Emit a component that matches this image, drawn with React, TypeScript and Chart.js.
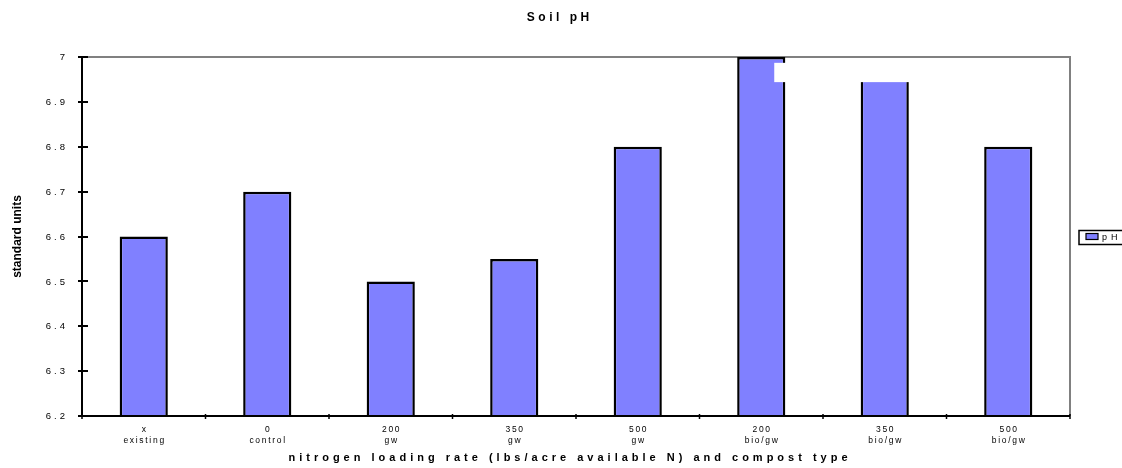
import React, { useEffect, useRef } from 'react';
import { Chart, registerables } from 'chart.js';

Chart.register(...registerables);

// ---- data ----
const categories: string[][] = [
  ['x', 'existing'],
  ['0', 'control'],
  ['200', 'gw'],
  ['350', 'gw'],
  ['500', 'gw'],
  ['200', 'bio/gw'],
  ['350', 'bio/gw'],
  ['500', 'bio/gw'],
];
const phValues: number[] = [6.6, 6.7, 6.5, 6.55, 6.8, 7.0, 6.95, 6.8];
const seriesLabel = 'pH';
const yMin = 6.2;
const yMax = 7;
const yStep = 0.1;
const titleText = 'Soil pH';
const xAxisTitle = 'nitrogen loading rate (lbs/acre available N) and compost type';
const yAxisTitle = 'standard units';

const FONT = '"Liberation Sans", Arial, Helvetica, sans-serif';
const BAR_FILL = '#8080FF';

// draws text one glyph at a time with extra tracking between glyphs
function drawSpaced(
  ctx: CanvasRenderingContext2D,
  text: string,
  x: number,
  y: number,
  spacing: number,
  align: 'left' | 'center' | 'right'
) {
  const chars = Array.from(text);
  const widths = chars.map((c) => ctx.measureText(c).width);
  const total = widths.reduce((s, w) => s + w, 0) + spacing * (chars.length - 1);
  let cx = align === 'center' ? x - total / 2 : align === 'right' ? x - total : x;
  ctx.textAlign = 'left';
  chars.forEach((c, i) => {
    ctx.fillText(c, cx, y);
    cx += widths[i] + spacing;
  });
}

const framePlugin = {
  id: 'frame',
  beforeDatasetsDraw(chart: any) {
    const { ctx, chartArea: a } = chart;
    ctx.save();
    ctx.strokeStyle = '#808080';
    ctx.lineWidth = 2;
    ctx.beginPath();
    ctx.moveTo(a.left, a.top);
    ctx.lineTo(a.right, a.top);
    ctx.lineTo(a.right, a.bottom);
    ctx.stroke();
    ctx.restore();
  },
  afterDatasetsDraw(chart: any) {
    const { ctx, chartArea: a, scales } = chart;
    const x = scales.x;
    const y = scales.y;
    ctx.save();

    // blank annotation strip across the upper right of the plot
    const sx0 = x.getPixelForValue(5) + 13;
    const sx1 = x.getPixelForValue(7) + 40;
    const sy0 = y.getPixelForValue(6.987);
    const sy1 = y.getPixelForValue(6.944);
    ctx.fillStyle = '#ffffff';
    ctx.fillRect(sx0, sy0, sx1 - sx0, sy1 - sy0);

    // value axis with crossing tick marks
    ctx.strokeStyle = '#000';
    ctx.lineWidth = 2;
    ctx.beginPath();
    ctx.moveTo(a.left, a.top);
    ctx.lineTo(a.left, a.bottom + 1);
    ctx.stroke();
    y.ticks.forEach((t: any) => {
      const py = Math.round(y.getPixelForValue(t.value));
      ctx.beginPath();
      ctx.moveTo(a.left - 4, py);
      ctx.lineTo(a.left + 6, py);
      ctx.stroke();
    });

    // category axis
    ctx.beginPath();
    ctx.moveTo(a.left - 4, a.bottom);
    ctx.lineTo(a.right, a.bottom);
    ctx.stroke();
    ctx.lineWidth = 1.5;
    const n = categories.length;
    for (let i = 0; i <= n; i++) {
      const px =
        i === 0
          ? a.left
          : i === n
          ? a.right
          : (x.getPixelForValue(i - 1) + x.getPixelForValue(i)) / 2;
      ctx.beginPath();
      ctx.moveTo(px, a.bottom - 2);
      ctx.lineTo(px, a.bottom + 3);
      ctx.stroke();
    }
    ctx.restore();
  },
  afterDraw(chart: any) {
    const { ctx, chartArea: a, scales } = chart;
    const x = scales.x;
    const y = scales.y;
    ctx.save();
    ctx.fillStyle = '#000';

    // value tick labels
    ctx.font = `9.5px ${FONT}`;
    ctx.textBaseline = 'middle';
    y.ticks.forEach((t: any) => {
      const label = String(parseFloat(Number(t.value).toFixed(1)));
      drawSpaced(ctx, label, a.left - 17, y.getPixelForValue(t.value) + 0.5, 3, 'right');
    });

    // category tick labels (two lines each)
    ctx.font = `8.5px ${FONT}`;
    categories.forEach((lines, i) => {
      const cx = x.getPixelForValue(i);
      lines.forEach((ln, j) => {
        drawSpaced(ctx, ln, cx, a.bottom + 14 + j * 11, 1.7, 'center');
      });
    });

    // chart title
    ctx.textBaseline = 'alphabetic';
    ctx.font = `bold 12px ${FONT}`;
    drawSpaced(ctx, titleText, 558, 21, 3.5, 'center');

    // category axis title
    ctx.font = `bold 11px ${FONT}`;
    drawSpaced(ctx, xAxisTitle, 568, 461, 4.0, 'center');

    // value axis title
    ctx.save();
    ctx.translate(18, (a.top + a.bottom) / 2);
    ctx.rotate(-Math.PI / 2);
    ctx.font = `bold 12px ${FONT}`;
    ctx.textBaseline = 'middle';
    drawSpaced(ctx, yAxisTitle, 0, 0, 0, 'center');
    ctx.restore();

    // legend box
    const lx = a.right + 9;
    const ly = (a.top + a.bottom) / 2 + 1;
    ctx.strokeStyle = '#000';
    ctx.lineWidth = 1.5;
    ctx.strokeRect(lx, ly - 7, 60, 14);
    ctx.fillStyle = BAR_FILL;
    ctx.fillRect(lx + 7, ly - 4, 12, 6);
    ctx.lineWidth = 1.2;
    ctx.strokeRect(lx + 7, ly - 4, 12, 6);
    ctx.fillStyle = '#000';
    ctx.font = `9px ${FONT}`;
    ctx.textBaseline = 'middle';
    drawSpaced(ctx, chart.data.datasets[0].label, lx + 23, ly + 0.5, 4, 'left');

    ctx.restore();
  },
};

export default function App() {
  const canvasRef = useRef<HTMLCanvasElement | null>(null);

  useEffect(() => {
    const canvas = canvasRef.current;
    if (!canvas) return;
    const chart = new Chart(canvas, {
      type: 'bar',
      data: {
        labels: categories.map((c) => c.join(' ')),
        datasets: [
          {
            label: seriesLabel,
            data: phValues,
            backgroundColor: BAR_FILL,
            borderColor: '#000',
            borderWidth: 2.5,
            barPercentage: 0.39,
            categoryPercentage: 1,
          },
        ],
      },
      options: {
        animation: false,
        responsive: false,
        maintainAspectRatio: false,
        layout: { padding: { left: 82, top: 57, right: 52, bottom: 52 } },
        plugins: {
          legend: { display: false },
          title: { display: false },
          tooltip: { enabled: false },
        },
        scales: {
          x: { display: false },
          y: {
            display: false,
            min: yMin,
            max: yMax,
            ticks: { stepSize: yStep },
          },
        },
      },
      plugins: [framePlugin],
    });
    return () => chart.destroy();
  }, []);

  return (
    <div style={{ position: 'fixed', left: 0, top: 0, width: 1122, height: 468, background: '#fff' }}>
      <canvas ref={canvasRef} width={1122} height={468} style={{ width: 1122, height: 468, display: 'block' }} />
    </div>
  );
}
